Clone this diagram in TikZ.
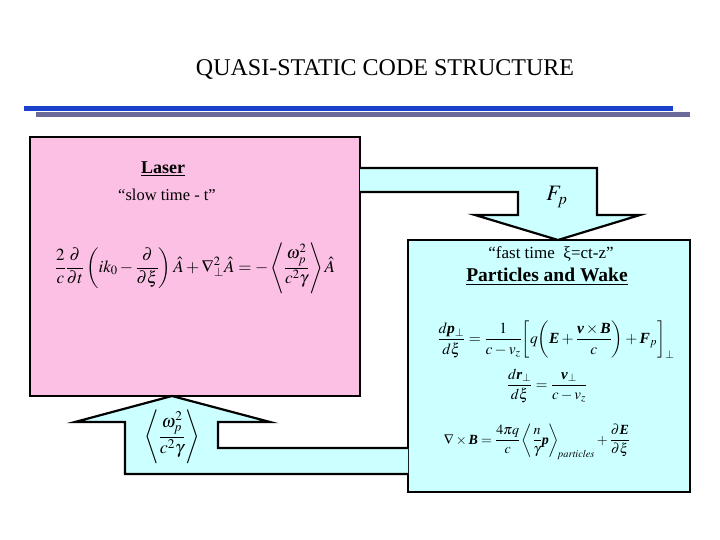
\documentclass[tikz,border=0pt]{standalone}
\usepackage{amsmath}
\usepackage{mathptmx}
\usepackage[no-math]{fontspec}
\setmainfont{Liberation Serif}
\usetikzlibrary{calc}
\definecolor{pinkc}{HTML}{FBC0E4}
\definecolor{cyanc}{HTML}{CCFFFF}
\definecolor{blueline}{HTML}{1A40CC}
\definecolor{greyline}{HTML}{6B6B9A}
\newcommand{\bv}[1]{\text{\bfseries\itshape #1}}
\newcommand{\fsz}[1]{\fontsize{#1}{#1}\selectfont}
\tikzset{
  boxstyle/.style={draw=black, line width=2.2pt, inner sep=0pt, outer sep=0pt, rectangle},
  blockarrow/.style={fill=cyanc, draw=black, line width=2.2pt, line join=miter},
  txt/.style={inner sep=0pt, text=black}
}
\begin{document}
\begin{tikzpicture}[x=1pt,y=-1pt]
\useasboundingbox (0,0) rectangle (720,540);
\fill[blueline] (24,106.5) rectangle (673,111);
\fill[greyline] (36,112) rectangle (690,117);
\node[txt, font=\fsz{24}] (title) at (385,70) {QUASI-STATIC CODE STRUCTURE};

\node[boxstyle, fill=pinkc, minimum width=330pt, minimum height=259pt] (laser) at (195,266.5) {};
\node[boxstyle, fill=cyanc, minimum width=282pt, minimum height=252pt] (wake) at (549,366) {};

% upper block arrow: laser -> wake
\filldraw[blockarrow] (laser.east |- 597,168) -- (597,168) -- (597,215) -- (640,215)
  -- (wake.north -| 558,0) -- (475,215) -- (518,215) -- (518,192) -- (laser.east |- 518,192);
% lower block arrow: wake -> laser
\filldraw[blockarrow] (wake.west |- 218,448) -- (218,448) -- (218,422) -- (270,422)
  -- (laser.south -| 172,0) -- (75,422) -- (125,422) -- (125,474) -- (wake.west |- 125,474);

\node[txt, font=\bfseries\fsz{18}] (lasertitle) at (163,169) {\underline{Laser}};
\node[txt, font=\fsz{16.5}] (slow) at (167,195) {“slow time - t”};
\node[txt, font=\fsz{17}] (eqA) at (195,268) {$\displaystyle \frac{2}{c}\frac{\partial}{\partial t}\left(ik_0-\frac{\partial}{\partial\xi}\right)\hat{A}+\nabla_{\perp}^2\hat{A}=-\left\langle\frac{\omega_p^2}{c^2\gamma}\right\rangle\hat{A}$};

\node[txt, font=\fsz{22}] (fp) at (557,197) {$F_p$};

\node[txt, font=\fsz{17}] (fast) at (551,254) {“fast time\ \ ξ=ct-z”};
\node[txt, font=\bfseries\fsz{19.5}] (pw) at (547,277) {\underline{Particles and Wake}};

\node[txt, font=\fsz{15.5}] (eq1) at (556,340) {$\displaystyle \frac{d\bv{p}_{\perp}}{d\xi}=\frac{1}{c-v_z}\biggl[q\biggl(\bv{E}+\frac{\bv{v}\times\bv{B}}{c}\biggr)+\bv{F}_p\biggr]_{\perp}$};
\node[txt, font=\fsz{15}] (eq2) at (547,386) {$\displaystyle \frac{d\bv{r}_{\perp}}{d\xi}=\frac{\bv{v}_{\perp}}{c-v_z}$};
\node[txt, font=\fsz{14}] (eq3) at (537,442) {$\displaystyle \nabla\times\bv{B}=\frac{4\pi q}{c}\left\langle\frac{n}{\gamma}\bv{p}\right\rangle_{\!\mathit{particles}}+\frac{\partial\bv{E}}{\partial\xi}$};

\node[txt, font=\fsz{18}] (lowlab) at (172,437) {$\displaystyle\left\langle\frac{\omega_p^2}{c^2\gamma}\right\rangle$};
\end{tikzpicture}
\end{document}
